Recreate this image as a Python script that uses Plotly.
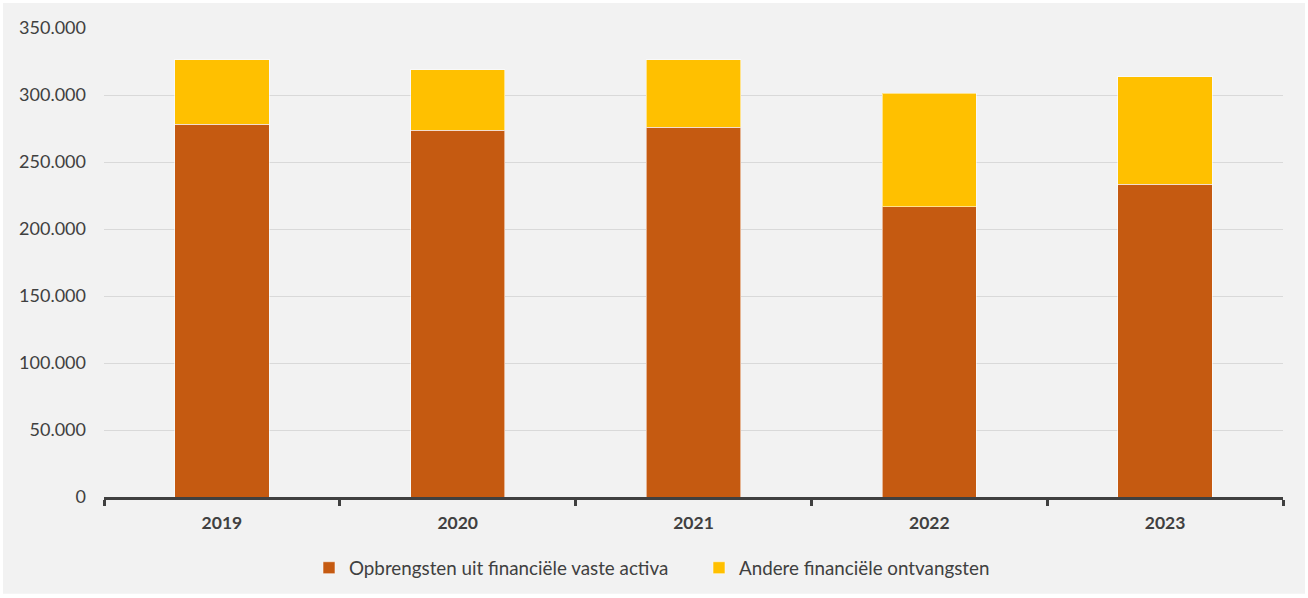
import plotly.graph_objects as go

years = ["2019", "2020", "2021", "2022", "2023"]
opbrengsten = [278100, 273600, 276100, 216600, 233500]
andere = [48100, 45100, 50100, 84700, 80300]
series_names = ["Opbrengsten uit financiële vaste activa", "Andere financiële ontvangsten"]
y_ticks = [0, 50000, 100000, 150000, 200000, 250000, 300000, 350000]

W, H = 1308, 598
ML, MR, MT, MB = 104, 25, 28, 100
pw, ph = W - ML - MR, H - MT - MB

FONT = "Lato"
TXT = "#404040"

fig = go.Figure()
fig.add_trace(go.Bar(
    x=years, y=opbrengsten, name=series_names[0],
    marker=dict(color="#C55A11", line=dict(color="rgba(255,255,255,0.55)", width=1)),
))
fig.add_trace(go.Bar(
    x=years, y=andere, name=series_names[1],
    marker=dict(color="#FFC000", line=dict(color="rgba(255,255,255,0.55)", width=1)),
))

fig.update_layout(
    width=W, height=H,
    margin=dict(l=ML, r=MR, t=MT, b=MB),
    barmode="stack", bargap=0.6,
    paper_bgcolor="#FFFFFF", plot_bgcolor="rgba(0,0,0,0)",
    separators=",.",
    font=dict(family=FONT, color=TXT, size=17),
    showlegend=True,
    legend=dict(
        orientation="h", x=(309 - ML) / pw, xanchor="left",
        y=(MT + ph - 568) / ph, yanchor="middle",
        font=dict(family=FONT, size=18.8, color=TXT),
        entrywidth=345, entrywidthmode="pixels",
        bgcolor="rgba(0,0,0,0)", traceorder="normal",
    ),
    shapes=[dict(
        type="rect", xref="paper", yref="paper", layer="below",
        x0=(3 - ML) / pw, x1=(W - 3 - ML) / pw,
        y0=-(H - 3 - MT - ph) / ph, y1=1 + (MT - 3) / ph,
        fillcolor="#F2F2F2", line=dict(width=0),
    )],
)

fig.update_yaxes(
    range=[0, 350000], tickvals=y_ticks, tickformat=",d",
    showgrid=True, gridcolor="#D9D9D9", gridwidth=1,
    zeroline=False, showline=False, ticks="",
    ticklabelstandoff=17,
    tickfont=dict(family=FONT, size=18, color=TXT),
)
fig.update_xaxes(
    showline=True, linecolor="#404040", linewidth=2.5,
    ticks="outside", tickson="boundaries", ticklen=6, tickwidth=2.5, tickcolor="#404040",
    showgrid=False,
    ticklabelstandoff=8,
    tickfont=dict(family=FONT, size=17.5, color=TXT, weight="bold"),
)

fig.write_html(
    "out.html",
    config={"displayModeBar": False},
    post_script="document.body.style.margin='0';",
)
